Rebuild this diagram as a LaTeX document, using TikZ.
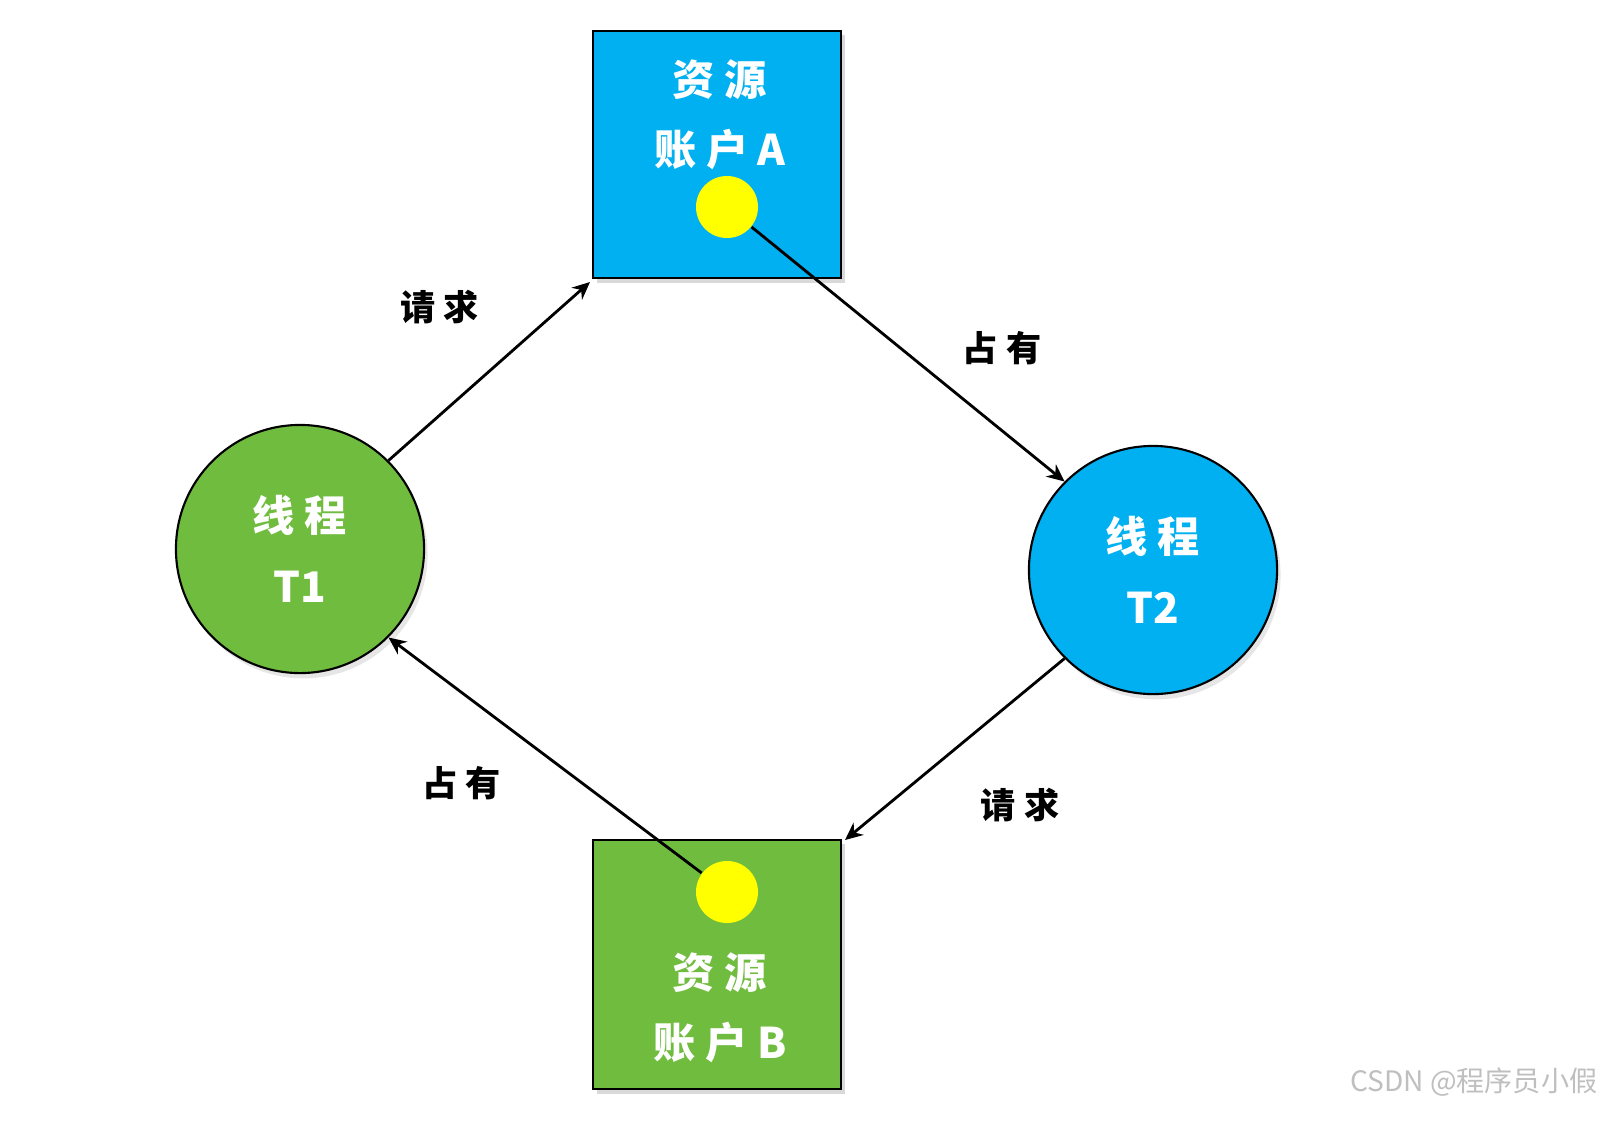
\documentclass[tikz,border=0pt]{standalone}
\usepackage{fontspec}
\setmainfont{Noto Sans CJK SC}
\usetikzlibrary{arrows.meta,shadows}
\definecolor{cblue}{HTML}{00B0F0}
\definecolor{cgreen}{HTML}{70BC3F}
\definecolor{cyel}{HTML}{FFFF00}
\begin{document}
\begin{tikzpicture}[x=0.01cm,y=-0.01cm,
  thr/.style={circle,draw=black,line width=0.6pt,minimum size=2.48cm,drop shadow={opacity=0.2,shadow xshift=1pt,shadow yshift=-1.5pt}},
  dot/.style={circle,fill=cyel,minimum size=0.62cm,inner sep=0},
  lab/.style={font=\fontsize{10}{11}\selectfont\bfseries},
  wt/.style={text=white,font=\fontsize{12}{20}\selectfont\bfseries,align=center},
  arr/.style={-{Stealth[length=5pt,width=4.5pt]},line width=0.8pt}]
\useasboundingbox (0,0) rectangle (1600,1133);
\fill[black,opacity=0.15] (597,35) rectangle (845,283);
\fill[black,opacity=0.15] (597,844) rectangle (845,1094);
\draw[fill=cblue,line width=0.6pt] (593,31) rectangle (841,278);
\draw[fill=cgreen,line width=0.6pt] (593,840) rectangle (841,1089);
\node[wt] (ta) at (720,115) {资 源\\账 户 A};
\node[wt] (tb) at (720,1008) {资 源\\账 户 B};
\node[dot] (ya) at (727,207) {};
\node[dot] (yb) at (727,892) {};
\coordinate (ac) at (590,282);
\coordinate (bc) at (845,840);
\node[thr,fill=cgreen] (t1) at (300,549) {};
\node[thr,fill=cblue] (t2) at (1153,570) {};
\node[wt] at (300,549) {线 程\\T1};
\node[wt] at (1153,570) {线 程\\T2};
\draw[arr] (t1.45) -- (ac);
\draw[arr] (ya) -- (t2.135);
\draw[arr] (t2.225) -- (bc);
\draw[arr] (yb) -- (t1.315);
\node[lab] (l1) at (440,307) {请 求};
\node[lab] (l2) at (1002,348) {占 有};
\node[lab] (l3) at (462,783) {占 有};
\node[lab] (l4) at (1020,805) {请 求};
\node[text=gray!50,font=\fontsize{8}{10}\selectfont,anchor=east,inner sep=0] (w) at (1598,1082) {CSDN @程序员小假};
\end{tikzpicture}
\end{document}
